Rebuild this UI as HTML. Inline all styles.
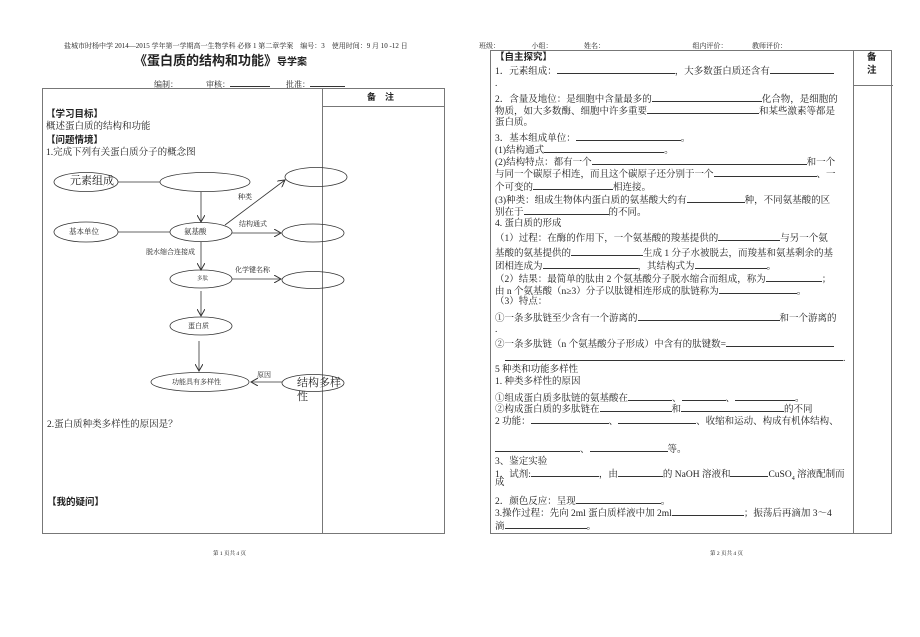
<!DOCTYPE html>
<html><head><meta charset="utf-8"><style>
body{margin:0;width:920px;height:637px;background:#fff;position:relative;overflow:hidden;font-family:"Liberation Serif","Noto Serif CJK SC",serif;color:#222}
.t{position:absolute;font-size:9.5px;line-height:12px;white-space:nowrap}
.b{font-family:"Liberation Sans","Noto Sans CJK SC",sans-serif;font-weight:bold}
.u{display:inline-block;border-bottom:1px solid #333;height:9px;vertical-align:baseline}
.box{position:absolute;border:1px solid #777}
.l{position:absolute;background:#777}
</style></head><body>
<div class="t" style="left:64px;top:40px;font-size:7px">盐城市时杨中学 2014—2015 学年第一学期高一生物学科 必修 1 第二章学案　编号：3　使用时间：9 月 10 -12 日</div>
<div class="t b" style="left:134px;top:53px;font-size:13px;line-height:16px">《蛋白质的结构和功能》<span style="font-size:10px">导学案</span></div>
<div class="t" style="left:154px;top:79px;font-size:8px">编制：　　　　审核：<span class="u" style="width:40px;height:7px"></span>　　批准：<span class="u" style="width:35px;height:7px"></span></div>
<div class="box" style="left:42px;top:88px;width:401px;height:444px"></div>
<div class="l" style="left:322px;top:88px;width:1px;height:445px"></div>
<div class="l" style="left:322px;top:106px;width:123px;height:1px"></div>
<div class="t b" style="left:367px;top:91px;font-size:9px">备　注</div>
<div class="t b" style="left:46px;top:109px">【学习目标】</div>
<div class="t" style="left:46px;top:121px">概述蛋白质的结构和功能</div>
<div class="t b" style="left:46px;top:135px">【问题情境】</div>
<div class="t" style="left:46px;top:147px">1.完成下列有关蛋白质分子的概念图</div>
<svg style="position:absolute;left:0;top:0" width="920" height="637">
<defs><marker id="a" markerWidth="8" markerHeight="8" refX="7" refY="4" orient="auto" markerUnits="userSpaceOnUse"><path d="M0,0 L7,4 L0,8" fill="none" stroke="#333"/></marker></defs>
<g fill="none" stroke="#333" stroke-width="0.8">
<ellipse cx="86" cy="182" rx="32" ry="9.5"/><ellipse cx="205" cy="182" rx="45" ry="9.5"/><ellipse cx="316" cy="177" rx="31" ry="9.5"/>
<ellipse cx="86" cy="232" rx="32" ry="10"/><ellipse cx="201" cy="232" rx="31" ry="9.5"/><ellipse cx="313" cy="233" rx="31" ry="9"/>
<ellipse cx="201" cy="279" rx="31" ry="9"/><ellipse cx="313" cy="280" rx="31" ry="8.5"/><ellipse cx="201" cy="326" rx="31" ry="9"/>
<ellipse cx="200" cy="382" rx="49" ry="9.5"/><ellipse cx="313" cy="383" rx="31" ry="8.5"/>
<line x1="118" y1="182" x2="160" y2="182"/><line x1="118" y1="232" x2="170" y2="232"/>
<line x1="201" y1="192" x2="201" y2="222" marker-end="url(#a)"/>
<line x1="225" y1="225" x2="285" y2="180" marker-end="url(#a)"/>
<line x1="232" y1="233" x2="281" y2="233" marker-end="url(#a)"/>
<line x1="201" y1="242" x2="201" y2="270" marker-end="url(#a)"/>
<line x1="232" y1="279" x2="281" y2="279" marker-end="url(#a)"/>
<line x1="201" y1="291" x2="201" y2="316" marker-end="url(#a)"/>
<line x1="199" y1="341" x2="199" y2="371" marker-end="url(#a)"/>
<line x1="282" y1="382" x2="251" y2="382" marker-end="url(#a)"/>
</g></svg>
<div class="t" style="left:70px;top:175px;font-size:11px">元素组成</div>
<div class="t" style="left:69px;top:226px;font-size:7.5px">基本单位</div>
<div class="t" style="left:184px;top:226px;font-size:7.5px">氨基酸</div>
<div class="t" style="left:197px;top:273px;font-size:5.5px">多肽</div>
<div class="t" style="left:188px;top:320px;font-size:7px">蛋白质</div>
<div class="t" style="left:172px;top:376px;font-size:7px">功能具有多样性</div>
<div class="t" style="left:297px;top:376px;font-size:11px;line-height:14px;white-space:normal;width:50px">结构多样性</div>
<div class="t" style="left:238px;top:191px;font-size:7px">种类</div>
<div class="t" style="left:239px;top:218px;font-size:7px">结构通式</div>
<div class="t" style="left:146px;top:246px;font-size:7px">脱水缩合连接成</div>
<div class="t" style="left:235px;top:264px;font-size:7px">化学键名称</div>
<div class="t" style="left:257px;top:369px;font-size:7px">原因</div>
<div class="t" style="left:47px;top:419px">2.蛋白质种类多样性的原因是？</div>
<div class="t b" style="left:47px;top:497px">【我的疑问】</div>
<div class="t" style="left:213px;top:548px;font-size:5.5px">第 1 页共 4 页</div>

<div class="t" style="left:479px;top:40px;font-size:7px">班级：　　　　　小组：　　　　　姓名：　　　　　　　　　　　　　组内评价：　　　　教师评价：</div>
<div class="box" style="left:490px;top:50px;width:400px;height:482px"></div>
<div class="l" style="left:853px;top:50px;width:1px;height:483px"></div>
<div class="l" style="left:853px;top:85px;width:40px;height:1px"></div>
<div class="t b" style="left:867px;top:51px;line-height:13px">备<br>注</div>
<div class="t b" style="left:495px;top:52px">【自主探究】</div>
<div class="t" style="left:495px;top:64px">1．元素组成：<span class="u" style="width:118px"></span>，大多数蛋白质还含有<span class="u" style="width:64px"></span></div>
<div class="t" style="left:495px;top:78px">.</div>
<div class="t" style="left:495px;top:92px">2．含量及地位：是细胞中含量最多的<span class="u" style="width:110px"></span>化合物，是细胞的</div>
<div class="t" style="left:495px;top:104px">物质，如大多数酶、细胞中许多重要<span class="u" style="width:112px"></span>和某些激素等都是</div>
<div class="t" style="left:495px;top:117px">蛋白质。</div>
<div class="t" style="left:495px;top:131px">3．基本组成单位：<span class="u" style="width:105px"></span>。</div>
<div class="t" style="left:495px;top:143px">(1)结构通式<span class="u" style="width:120px"></span>。</div>
<div class="t" style="left:495px;top:155px">(2)结构特点：都有一个<span class="u" style="width:215px"></span>和一个</div>
<div class="t" style="left:495px;top:167px">与同一个碳原子相连，而且这个碳原子还分别于一个<span class="u" style="width:103px"></span>、一</div>
<div class="t" style="left:495px;top:180px">个可变的<span class="u" style="width:80px"></span>相连接。</div>
<div class="t" style="left:495px;top:193px">(3)种类：组成生物体内蛋白质的氨基酸大约有<span class="u" style="width:58px"></span>种，不同氨基酸的区</div>
<div class="t" style="left:495px;top:205px">别在于<span class="u" style="width:85px"></span>的不同。</div>
<div class="t" style="left:495px;top:218px">4. 蛋白质的形成</div>
<div class="t" style="left:495px;top:231px">（1）过程：在酶的作用下，一个氨基酸的羧基提供的<span class="u" style="width:62px"></span>与另一个氨</div>
<div class="t" style="left:495px;top:246px">基酸的氨基提供的<span class="u" style="width:72px"></span>生成 1 分子水被脱去，而羧基和氨基剩余的基</div>
<div class="t" style="left:495px;top:259px">团相连成为<span class="u" style="width:95px"></span>，其结构式为<span class="u" style="width:72px"></span>。</div>
<div class="t" style="left:495px;top:272px">（2）结果：最简单的肽由 2 个氨基酸分子脱水缩合而组成，称为<span class="u" style="width:56px"></span>；</div>
<div class="t" style="left:495px;top:284px">由 n 个氨基酸（n≥3）分子以肽键相连形成的肽链称为<span class="u" style="width:78px"></span>。</div>
<div class="t" style="left:495px;top:296px">（3）特点：</div>
<div class="t" style="left:495px;top:311px">①一条多肽链至少含有一个游离的<span class="u" style="width:142px"></span>和一个游离的</div>
<div class="t" style="left:495px;top:324px">.</div>
<div class="t" style="left:495px;top:337px">②一条多肽链（n 个氨基酸分子形成）中含有的肽键数=<span class="u" style="width:108px"></span></div>
<div class="t" style="left:495px;top:351px"><span style="display:inline-block;width:10px"></span><span class="u" style="width:338px"></span>.</div>
<div class="t" style="left:495px;top:364px">5 种类和功能多样性</div>
<div class="t" style="left:495px;top:376px">1. 种类多样性的原因</div>
<div class="t" style="left:495px;top:391px">①组成蛋白质多肽链的氨基酸在<span class="u" style="width:44px"></span>、<span class="u" style="width:44px"></span>、<span class="u" style="width:60px"></span>。</div>
<div class="t" style="left:495px;top:402px">②构成蛋白质的多肽链在<span class="u" style="width:72px"></span>和<span class="u" style="width:103px"></span>的不同</div>
<div class="t" style="left:495px;top:414px">2 功能：<span class="u" style="width:78px"></span>、<span class="u" style="width:78px"></span>、收缩和运动、构成有机体结构、</div>
<div class="t" style="left:495px;top:442px"><span class="u" style="width:85px"></span>、<span class="u" style="width:78px"></span>等。</div>
<div class="t" style="left:495px;top:456px">3、鉴定实验</div>
<div class="t" style="left:495px;top:467px">1．试剂:<span class="u" style="width:68px"></span>，由<span class="u" style="width:45px"></span>的 NaOH 溶液和<span class="u" style="width:38px"></span>CuSO<sub style="font-size:6px">4</sub> 溶液配制而</div>
<div class="t" style="left:495px;top:477px">成</div>
<div class="t" style="left:495px;top:494px">2．颜色反应：呈现<span class="u" style="width:85px"></span>。</div>
<div class="t" style="left:495px;top:506px">3.操作过程：先向 2ml 蛋白质样液中加 2ml<span class="u" style="width:72px"></span>；振荡后再滴加 3～4</div>
<div class="t" style="left:495px;top:519px">滴<span class="u" style="width:82px"></span>。</div>
<div class="t" style="left:710px;top:548px;font-size:5.5px">第 2 页共 4 页</div>
</body></html>
